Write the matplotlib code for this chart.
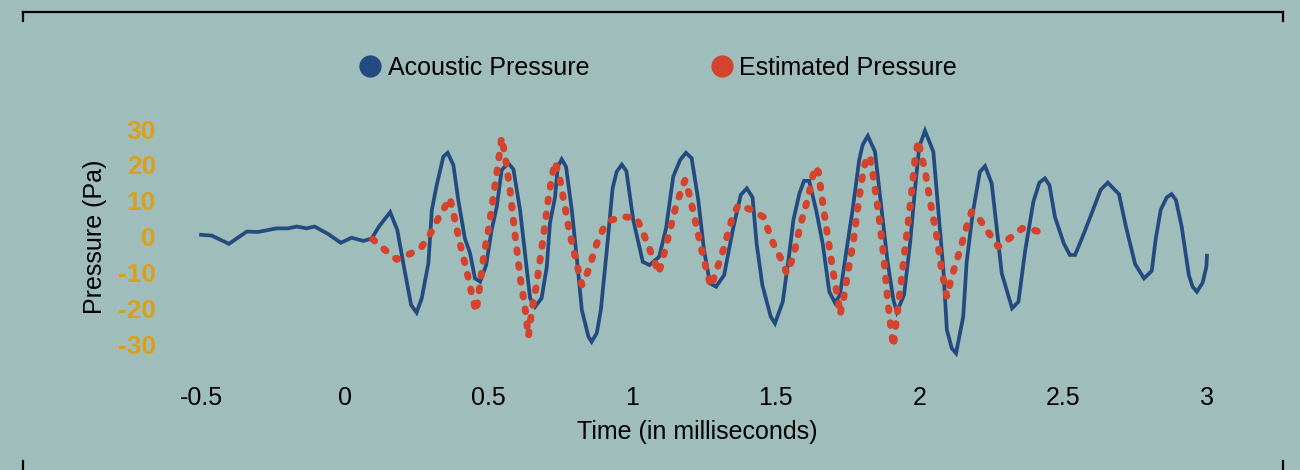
import matplotlib.pyplot as plt
from matplotlib.lines import Line2D

# Acoustic pressure (measured), time in ms
acoustic_t = [-0.500, -0.463, -0.403, -0.341, -0.301, -0.237, -0.197, -0.167, -0.133, -0.105,
              -0.057, -0.014, 0.024, 0.065, 0.094, 0.119, 0.158, 0.183, 0.206, 0.231,
              0.250, 0.268, 0.291, 0.303, 0.320, 0.343, 0.358, 0.378, 0.395, 0.418,
              0.436, 0.453, 0.471, 0.492, 0.511, 0.529, 0.546, 0.569, 0.587, 0.610,
              0.627, 0.645, 0.662, 0.685, 0.703, 0.714, 0.732, 0.741, 0.755, 0.770,
              0.790, 0.807, 0.825, 0.848, 0.859, 0.877, 0.891, 0.912, 0.932, 0.946,
              0.964, 0.980, 1.004, 1.037, 1.060, 1.094, 1.118, 1.143, 1.167, 1.187,
              1.207, 1.230, 1.250, 1.271, 1.292, 1.320, 1.350, 1.378, 1.399, 1.419,
              1.433, 1.453, 1.482, 1.497, 1.524, 1.547, 1.561, 1.582, 1.598, 1.616,
              1.640, 1.663, 1.686, 1.706, 1.723, 1.746, 1.767, 1.790, 1.802, 1.820,
              1.845, 1.868, 1.888, 1.909, 1.921, 1.946, 1.967, 1.984, 1.999, 2.019,
              2.048, 2.069, 2.083, 2.095, 2.112, 2.127, 2.152, 2.164, 2.185, 2.210,
              2.228, 2.251, 2.268, 2.286, 2.322, 2.344, 2.367, 2.396, 2.417, 2.436,
              2.452, 2.471, 2.502, 2.523, 2.541, 2.570, 2.599, 2.630, 2.655, 2.694,
              2.718, 2.750, 2.781, 2.808, 2.822, 2.839, 2.860, 2.877, 2.892, 2.912,
              2.937, 2.950, 2.965, 2.985, 2.998, 3.000]
acoustic_p = [0.6, 0.4, -1.9, 1.5, 1.4, 2.4, 2.4, 2.9, 2.4, 2.9,
              0.8, -1.6, -0.2, -1.1, -0.4, 2.9, 6.9, 1.9, -8.3, -18.9,
              -21.0, -17.0, -7.3, 7.5, 14.4, 22.3, 23.4, 20.0, 10.3, -0.4,
              -4.5, -11.5, -12.4, -7.8, 1.9, 8.4, 18.6, 20.5, 18.8, 7.5,
              -4.5, -17.0, -19.4, -17.0, -8.3, 3.8, 11.2, 19.5, 21.6, 19.5,
              7.5, -5.5, -20.3, -27.7, -29.1, -26.7, -20.3, -3.6, 13.5, 18.1,
              20.1, 18.3, 4.7, -6.9, -7.8, -5.5, 2.4, 16.8, 21.4, 23.4,
              21.9, 10.3, -3.6, -12.9, -13.8, -10.6, 1.9, 11.7, 13.5, 11.0,
              -1.8, -13.3, -22.1, -24.0, -18.0, -4.5, 4.7, 12.1, 15.6, 15.6,
              7.5, -1.8, -15.2, -18.3, -16.1, -3.6, 7.5, 21.4, 25.6, 28.1,
              23.7, 7.5, -6.4, -17.5, -20.8, -16.1, -1.8, 13.1, 25.1, 29.5,
              23.7, 3.8, -9.2, -25.8, -30.9, -32.3, -22.1, -6.9, 6.6, 18.1,
              19.7, 14.9, 2.9, -10.1, -19.8, -18.0, -4.1, 9.8, 15.1, 16.3,
              14.4, 5.6, -1.8, -5.0, -5.0, 0.6, 6.6, 13.1, 15.1, 11.9,
              2.9, -7.5, -11.5, -9.4, -0.4, 7.5, 11.0, 11.9, 10.3, 2.9,
              -10.6, -13.8, -15.2, -12.7, -8.3, -5.2]

# Estimated pressure (model)
estimated_t = [0.097, 0.140, 0.181, 0.227, 0.268, 0.297, 0.320, 0.346, 0.366, 0.378,
               0.401, 0.424, 0.445, 0.457, 0.465, 0.471, 0.485, 0.503, 0.517, 0.534,
               0.546, 0.552, 0.561, 0.575, 0.592, 0.610, 0.627, 0.639, 0.651, 0.668,
               0.691, 0.708, 0.720, 0.732, 0.747, 0.766, 0.784, 0.807, 0.825, 0.848,
               0.877, 0.900, 0.926, 0.975, 1.016, 1.039, 1.062, 1.080, 1.091, 1.103,
               1.120, 1.149, 1.167, 1.184, 1.201, 1.219, 1.242, 1.259, 1.274, 1.294,
               1.317, 1.346, 1.369, 1.416, 1.456, 1.491, 1.520, 1.538, 1.561, 1.584,
               1.613, 1.636, 1.648, 1.660, 1.677, 1.700, 1.718, 1.723, 1.735, 1.752,
               1.769, 1.787, 1.804, 1.816, 1.828, 1.839, 1.856, 1.874, 1.888, 1.897,
               1.909, 1.918, 1.932, 1.949, 1.967, 1.984, 1.996, 2.004, 2.019, 2.036,
               2.060, 2.077, 2.095, 2.112, 2.141, 2.164, 2.181, 2.199, 2.234, 2.274,
               2.321, 2.357, 2.402, 2.448]
estimated_p = [-0.6, -3.6, -6.2, -4.7, -2.7, 0.8, 4.4, 8.0, 10.8, 6.6,
               -1.8, -9.2, -17.0, -20.8, -16.6, -12.9, -4.5, 3.3, 11.2, 20.5,
               27.7, 25.1, 20.9, 13.1, 1.0, -11.0, -19.4, -27.7, -20.3, -12.9,
               0.1, 10.3, 16.3, 20.9, 16.8, 8.4, 0.6, -7.3, -13.3, -9.2,
               -1.8, 2.4, 4.7, 5.6, 5.2, 1.0, -3.6, -7.3, -10.1, -7.3,
               -1.8, 7.5, 12.1, 15.8, 11.2, 4.7, -3.6, -9.2, -13.8, -9.2,
               -3.6, 4.7, 8.9, 7.5, 5.6, -1.8, -6.4, -10.1, -5.5, 2.9,
               11.2, 19.5, 18.1, 11.2, 1.9, -10.1, -18.0, -21.7, -17.5, -9.2,
               -1.8, 9.4, 18.1, 22.3, 22.3, 16.8, 7.5, -4.5, -16.6, -23.1,
               -30.5, -24.0, -15.2, -3.6, 8.4, 21.4, 26.9, 23.3, 18.6, 10.3,
               0.1, -9.2, -16.6, -11.0, -3.6, 2.9, 7.0, 6.1, 1.9, -2.7,
               0.1, 2.4, 1.8, 0.6]

x_ticks = [-0.5, 0, 0.5, 1, 1.5, 2, 2.5, 3]
x_tick_labels = ['-0.5', '0', '0.5', '1', '1.5', '2', '2.5', '3']
y_ticks = [-30, -20, -10, 0, 10, 20, 30]

bg = '#9fbebb'
blue = '#244b80'
red = '#d3432d'
gold = '#d9a01c'

plt.rcParams['font.family'] = ['Liberation Sans', 'DejaVu Sans']

fig = plt.figure(figsize=(13, 4.7), dpi=100, facecolor=bg)
ax = fig.add_axes([170 / 1300, 1 - 365 / 470, 1070 / 1300, 250 / 470])
ax.set_facecolor(bg)

ax.plot(acoustic_t, acoustic_p, color=blue, lw=2.7, solid_joinstyle='miter')
ax.plot(estimated_t, estimated_p, color=red, lw=5.0,
        linestyle=(0, (0.4, 1.75)), dash_capstyle='round')

ax.set_xlim(-0.608, 3.115)
ax.set_ylim(-35.56, 33.89)

for s in ax.spines.values():
    s.set_visible(False)

ax.set_xticks(x_ticks)
ax.set_xticklabels(x_tick_labels, fontsize=18)
ax.set_yticks(y_ticks)
ax.set_yticklabels([str(v) for v in y_ticks], fontsize=19, fontweight='bold', color=gold)
ax.tick_params(axis='both', length=0)
ax.tick_params(axis='x', pad=15)
ax.tick_params(axis='y', pad=10)

fig.text(697 / 1300, 1 - 432 / 470, 'Time (in milliseconds)', ha='center', va='center', fontsize=18)
fig.text(95 / 1300, 1 - 237 / 470, 'Pressure (Pa)', ha='center', va='center',
         rotation=90, fontsize=18)

handles = [Line2D([], [], color=blue, marker='o', linestyle='none', markersize=15),
           Line2D([], [], color=red, marker='o', linestyle='none', markersize=15)]
fig.legend(handles, ['Acoustic Pressure', 'Estimated Pressure'], loc='center',
           bbox_to_anchor=(660 / 1300, 1 - 68 / 470), ncol=2, frameon=False,
           fontsize=18, handlelength=0.6, handletextpad=0.4, columnspacing=5.0)

# bracket frame
lw_frame = 1.6
fig.add_artist(Line2D([23 / 1300, 1283 / 1300], [1 - 12 / 470, 1 - 12 / 470],
                      color='black', lw=lw_frame))
for xp in (23, 1283):
    fig.add_artist(Line2D([xp / 1300, xp / 1300], [1 - 12 / 470, 1 - 21 / 470],
                          color='black', lw=lw_frame))
    fig.add_artist(Line2D([xp / 1300, xp / 1300], [1 - 461 / 470, 0],
                          color='black', lw=lw_frame))

fig.savefig('out.png', dpi=100, facecolor=bg)
